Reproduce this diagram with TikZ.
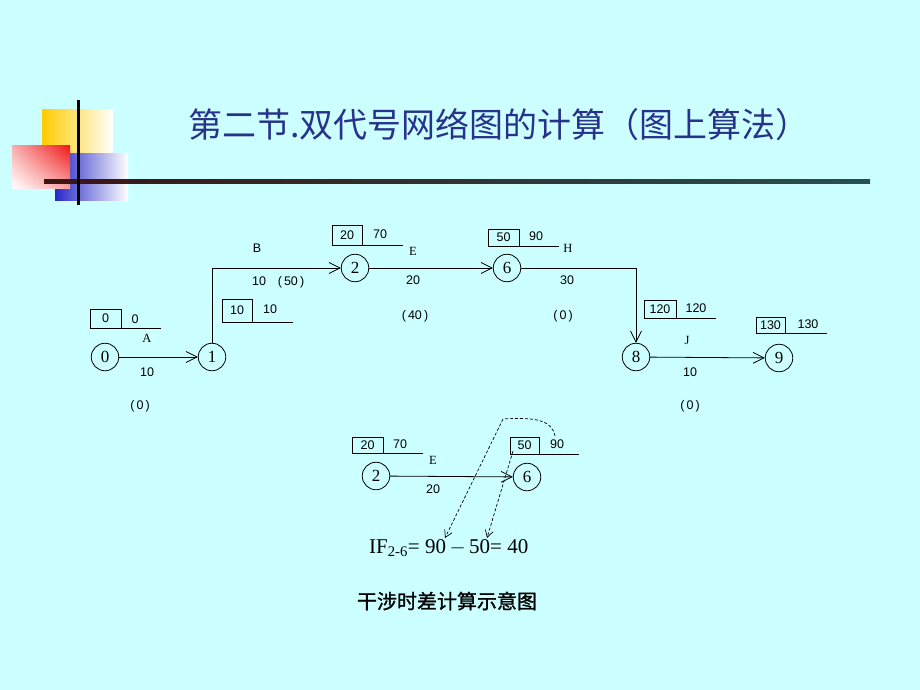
\documentclass[tikz,border=0pt]{standalone}
\usepackage{fontspec}
\setmainfont{Liberation Serif}
\newfontfamily\cjk{Noto Sans CJK SC}
\newfontfamily\cjkb[FakeBold=1.2]{Noto Sans CJK SC}
\newfontfamily\numf{Liberation Sans}
\usetikzlibrary{arrows.meta,shadings}
\definecolor{bg}{RGB}{204,255,255}
\definecolor{titleblue}{RGB}{40,50,140}
\definecolor{ylw}{RGB}{255,204,0}
\definecolor{rd}{RGB}{240,20,20}
\definecolor{bl}{RGB}{40,40,200}
\begin{document}
\begin{tikzpicture}[x=1pt,y=-1pt,
  every node/.style={inner sep=0pt},
  ev/.style={draw,circle,line width=0.8pt,minimum size=27.5pt,font=\fontsize{17}{17}\selectfont},
  ebox/.style={draw,line width=0.8pt,minimum width=31pt,minimum height=19pt,font=\numf\fontsize{12.5}{13}\selectfont},
  num/.style={font=\numf\fontsize{12.5}{13}\selectfont},
  let/.style={font=\fontsize{12.5}{13}\selectfont},
  ln/.style={line width=0.8pt},
  arr/.style={line width=0.8pt,-{Straight Barb[length=11pt,width=11pt,line width=0.8pt]}},
  darr/.style={line width=0.7pt,dashed,dash pattern=on 3pt off 2pt,-{Straight Barb[length=7pt,width=8pt,line width=0.7pt]}}]
\fill[bg] (0,0) rectangle (920,690);
\useasboundingbox (0,0) rectangle (920,690);
% decoration
\shade[left color=ylw,middle color=ylw!80!white,right color=white] (42,110) rectangle (113,154);
\shade[left color=bl,middle color=bl!70!white,right color=white] (55,153) rectangle (128,200);
\shade[upper left=rd!35!white,upper right=rd,lower left=white,lower right=rd!40!white] (12,145) rectangle (70,188);
\shade[left color={rgb,255:red,60;green,20;blue,20},right color={rgb,255:red,40;green,80;blue,80}] (44,179) rectangle (870,183);
\draw[line width=3pt,black] (78,100) -- (78,205);
% title
\node[font=\cjk\fontsize{34}{34}\selectfont,text=titleblue,anchor=west] (title) at (188,125) {第二节.双代号网络图的计算（图上算法）};
% top network nodes
\node[ev] (n0) at (105,357) {0};
\node[ev] (n1) at (212,357) {1};
\node[ev] (n2) at (355,268) {2};
\node[ev] (n6) at (507,268) {6};
\node[ev] (n8) at (636,357) {8};
\node[ev] (n9) at (779,358) {9};
\draw[arr] (n0) -- (n1);
\draw[arr] (n1) -- (n1 |- n2) -- (n2);
\draw[arr] (n2) -- (n6);
\draw[arr] (n6) -- (n6 -| n8) -- (n8);
\draw[arr] (n8) -- (n9);
% time boxes
\node[ebox] (b0) at (105.5,318.5) {0};
\node[num] (l0) at (135,319) {0};
\draw[ln] (b0.south east) -- ++(40,0) coordinate (u0);
\node[ebox,minimum width=30pt,minimum height=23pt] (b1) at (237,310.5) {10};
\node[num] (l1) at (270,309) {10};
\draw[ln] (b1.south east) -- ++(41,0) coordinate (u1);
\node[ebox,minimum width=30pt,minimum height=20pt] (b2) at (347,235) {20};
\node[num] (l2) at (380,234.5) {70};
\draw[ln] (b2.south east) -- ++(41,0) coordinate (u2);
\node[ebox,minimum height=17pt] (b6) at (503.5,237.5) {50};
\node[num] (l6) at (536,236.5) {90};
\draw[ln] (b6.south east) -- ++(40,0) coordinate (u6);
\node[ebox,minimum width=32pt,minimum height=18pt] (b8) at (660,309) {120};
\node[num] (l8) at (696,308) {120};
\draw[ln] (b8.south east) -- ++(40,0) coordinate (u8);
\node[ebox,minimum width=29pt,minimum height=16pt] (b9) at (770.5,325) {130};
\node[num] (l9) at (808,324) {130};
\draw[ln] (b9.south east) -- ++(42,0) coordinate (u9);
% activity labels
\node[let] (tA) at (147,338) {A};
\node[num] (dA) at (147,372) {10};
\node[num] (fA) at (140,406) {(\,0\,)};
\node[num] (tB) at (257,248) {B};
\node[num] (dB) at (259,281) {10};
\node[num] (fB) at (291,282) {(\,50\,)};
\node[let] (tE) at (413,251) {E};
\node[num] (dE) at (413,280) {20};
\node[num] (fE) at (415,316) {(\,40\,)};
\node[let] (tH) at (568,248) {H};
\node[num] (dH) at (567,280) {30};
\node[num] (fH) at (563,316) {(\,0\,)};
\node[let] (tJ) at (687,340) {J};
\node[num] (dJ) at (690,372) {10};
\node[num] (fJ) at (690,406) {(\,0\,)};
% bottom illustration
\node[ebox,minimum height=16pt] (c2) at (367.5,445) {20};
\node[num] (k2) at (400,444) {70};
\draw[ln] (c2.south east) -- ++(40,0) coordinate (v2);
\node[let] (cE) at (433,460) {E};
\node[ev] (m2) at (376,476) {2};
\node[ev] (m6) at (527,477) {6};
\draw[arr] (m2) -- (m6);
\node[num] (cd) at (433,489) {20};
\node[ebox,minimum width=29pt,minimum height=17pt] (c6) at (524.5,445.5) {50};
\node[num] (k6) at (557,444) {90};
\draw[ln] (c6.south east) -- ++(40,0) coordinate (v6);
\node[font=\fontsize{21}{21}\selectfont,anchor=west] (formula) at (369,548) {IF\textsubscript{2-6}= 90\,$-$\,50= 40};
\coordinate (t90) at (445,538);
\coordinate (t50) at (487,538);
\coordinate (s90) at (555,436);
\coordinate (s50) at (513,451);
\draw[darr] (s90) .. controls (552,420) and (535,417) .. (503,419) -- (t90);
\draw[darr] (s50) -- (t50);
\node[font=\cjkb\fontsize{20}{20}\selectfont] (cap) at (447,601) {干涉时差计算示意图};
\end{tikzpicture}
\end{document}
